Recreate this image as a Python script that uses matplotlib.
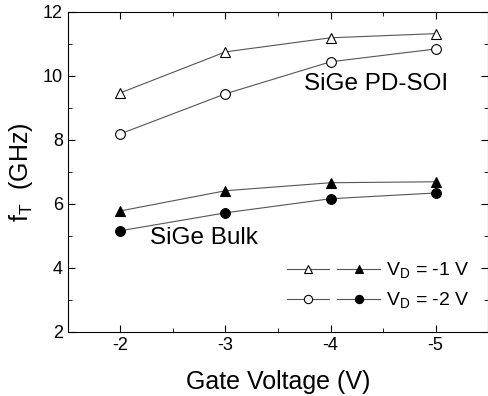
import matplotlib
matplotlib.use("Agg")
import matplotlib.pyplot as plt
from matplotlib.legend_handler import HandlerTuple

plt.rcParams['font.family'] = ['Liberation Sans', 'DejaVu Sans']
plt.rcParams['mathtext.fontset'] = 'custom'
plt.rcParams['mathtext.rm'] = 'Liberation Sans'

# gate voltage (V)
gate_v = [-2, -3, -4, -5]
# fT (GHz)
soi_vd1 = [9.47, 10.75, 11.19, 11.32]
soi_vd2 = [8.19, 9.44, 10.44, 10.84]
bulk_vd1 = [5.78, 6.41, 6.66, 6.69]
bulk_vd2 = [5.16, 5.72, 6.16, 6.34]

fig = plt.figure(figsize=(4.89, 3.96), dpi=100)
ax = fig.add_axes([0.139, 0.162, 0.859, 0.808])

lc = '#555555'
kw = dict(color=lc, lw=0.8, ms=7, mec='black', mew=0.8)
l1, = ax.plot(gate_v, soi_vd1, marker='^', mfc='white', **kw)
l2, = ax.plot(gate_v, soi_vd2, marker='o', mfc='white', **kw)
l3, = ax.plot(gate_v, bulk_vd1, marker='^', mfc='black', **kw)
l4, = ax.plot(gate_v, bulk_vd2, marker='o', mfc='black', **kw)

ax.set_xlim(-1.5, -5.5)
ax.set_ylim(2, 12)
ax.set_xticks(gate_v)
ax.set_xticks([-2.5, -3.5, -4.5], minor=True)
ax.set_yticks([2, 4, 6, 8, 10, 12])
ax.set_yticks([3, 5, 7, 9, 11], minor=True)
ax.tick_params(which='both', direction='in', top=True, right=True, labelsize=13)
ax.tick_params(which='major', length=5)
ax.tick_params(which='minor', length=3)
ax.set_xticklabels(['-2', '-3', '-4', '-5'])

ax.set_xlabel('Gate Voltage (V)', fontsize=18, labelpad=12)
ax.set_ylabel(r'f$_\mathrm{T}$  (GHz)', fontsize=18, labelpad=6)

ax.text(-3.75, 9.55, 'SiGe PD-SOI', fontsize=17.5)
ax.text(-2.28, 4.75, 'SiGe Bulk', fontsize=17.5)

leg = ax.legend([(l1, l3), (l2, l4)],
                [r'V$_\mathrm{D}$ = -1 V', r'V$_\mathrm{D}$ = -2 V'],
                handler_map={tuple: HandlerTuple(ndivide=None, pad=0.4)},
                loc='lower right', bbox_to_anchor=(0.997, 0.01),
                frameon=False, fontsize=14, handlelength=4.8,
                handletextpad=0.3, labelspacing=0.5, markerscale=0.85)

fig.savefig('out.png', dpi=100)
